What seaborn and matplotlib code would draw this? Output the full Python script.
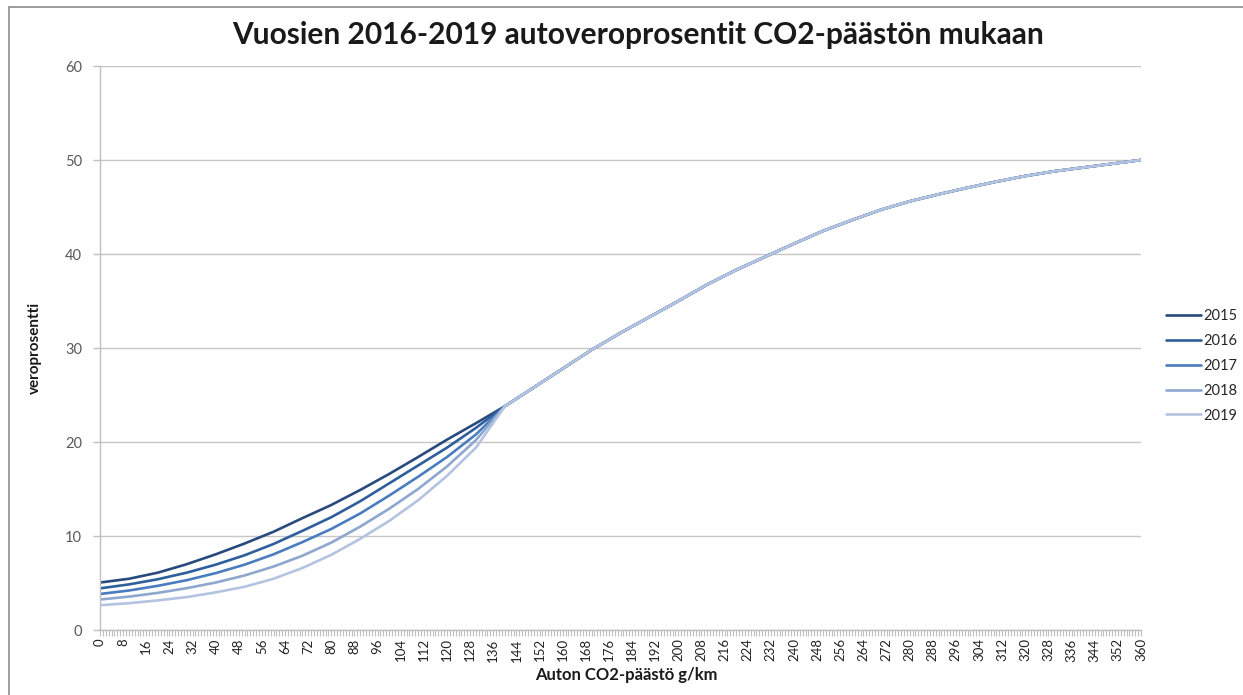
import seaborn as sns
import matplotlib.pyplot as plt
import pandas as pd
from matplotlib.lines import Line2D
from matplotlib.patches import Rectangle

# values
years = ['2015', '2016', '2017', '2018', '2019']
colors = ['#284a7c', '#2f5e9c', '#4a7cbf', '#8ea7cf', '#b4c4e0']

co2_low = [0, 10, 20, 30, 40, 50, 60, 70, 80, 90, 100, 110, 120, 130, 140]
tax_2015 = [5.05, 5.45, 6.1, 7.0, 8.05, 9.2, 10.45, 11.9, 13.3, 14.9, 16.6, 18.4, 20.25, 22.0, 23.8]
tax_2016 = [4.43, 4.85, 5.4, 6.1, 6.95, 7.95, 9.15, 10.55, 12.0, 13.7, 15.6, 17.5, 19.4, 21.5, 23.8]
tax_2017 = [3.83, 4.2, 4.7, 5.3, 6.05, 6.95, 8.05, 9.35, 10.75, 12.4, 14.3, 16.3, 18.4, 20.8, 23.8]
tax_2018 = [3.24, 3.55, 3.95, 4.45, 5.05, 5.8, 6.75, 7.9, 9.3, 11.0, 12.9, 15.0, 17.4, 20.2, 23.8]
tax_2019 = [2.64, 2.85, 3.15, 3.5, 4.0, 4.6, 5.45, 6.6, 8.0, 9.7, 11.6, 13.8, 16.4, 19.4, 23.8]

# above 140 g/km all years share the same curve
co2_high = [150, 160, 170, 180, 190, 200, 210, 220, 230, 240, 250, 260,
            270, 280, 290, 300, 310, 320, 330, 340, 350, 360]
tax_high = [25.8, 27.8, 29.8, 31.6, 33.3, 35.0, 36.75, 38.3, 39.7, 41.1, 42.45, 43.6,
            44.7, 45.6, 46.35, 47.05, 47.7, 48.3, 48.8, 49.2, 49.6, 50.0]

low_values = [tax_2015, tax_2016, tax_2017, tax_2018, tax_2019]

rows = []
for year, low in zip(years, low_values):
    for x, y in zip(co2_low + co2_high, low + tax_high):
        rows.append({'co2': x, 'tax': y, 'year': year})
df = pd.DataFrame(rows)

sns.set_style('white')
plt.rcParams['font.family'] = ['Lato', 'DejaVu Sans']

fig = plt.figure(figsize=(12.43, 6.95), dpi=100)
ax = fig.add_axes([100 / 1243, 65 / 695, 1041 / 1243, 564 / 695])

sns.lineplot(data=df, x='co2', y='tax', hue='year', palette=colors,
             linewidth=1.9, errorbar=None, legend=False, ax=ax)

ax.set_xlim(0, 360)
ax.set_ylim(0, 60)
ax.set_yticks(range(0, 61, 10))
ax.set_xticks(range(0, 361, 8))
ax.set_xticks(range(0, 361, 1), minor=True)
ax.set_xticklabels([str(v) for v in range(0, 361, 8)], rotation=90, fontsize=9.5)
ax.tick_params(axis='y', labelsize=10.5, colors='#595959', length=5, width=1,
               direction='out', left=True, pad=8)
ax.tick_params(axis='y', color='#bfbfbf')
ax.tick_params(axis='x', which='both', length=4, width=0.8, color='#bfbfbf',
               direction='out', bottom=True, labelcolor='#222222', pad=2)
ax.yaxis.grid(True, color='#c6c6c6', linewidth=1)
ax.xaxis.grid(False)
for side in ['top', 'right']:
    ax.spines[side].set_visible(False)
for side in ['left', 'bottom']:
    ax.spines[side].set_color('#bfbfbf')
    ax.spines[side].set_linewidth(1)
ax.set_xlabel('')
ax.set_ylabel('')

fig.text(0.5137, 0.949, 'Vuosien 2016-2019 autoveroprosentit CO2-päästön mukaan',
         ha='center', va='center', fontsize=21.5, fontweight='bold', color='#1a1a1a')
fig.text(0.5036, 1 - 675 / 695, 'Auton CO2-päästö g/km', ha='center', va='center',
         fontsize=12, fontweight='bold', color='#1a1a1a')
fig.text(0.028, 0.5, 'veroprosentti', ha='center', va='center', rotation=90,
         fontsize=11, fontweight='bold', color='#1a1a1a')

handles = [Line2D([0], [0], color=c, linewidth=1.9) for c in colors]
fig.legend(handles, years, loc='upper left', bbox_to_anchor=(1160 / 1243, 1 - 303 / 695),
           frameon=False, fontsize=10.5, handlelength=2.4, handletextpad=0.2,
           labelspacing=0.75, borderaxespad=0)

fig.patches.append(Rectangle((9 / 1243, -0.05), 1.2, 1.05 - 7 / 695,
                             transform=fig.transFigure, fill=False,
                             edgecolor='#8c8c8c', linewidth=1.2))

fig.savefig('out.png', dpi=100)
